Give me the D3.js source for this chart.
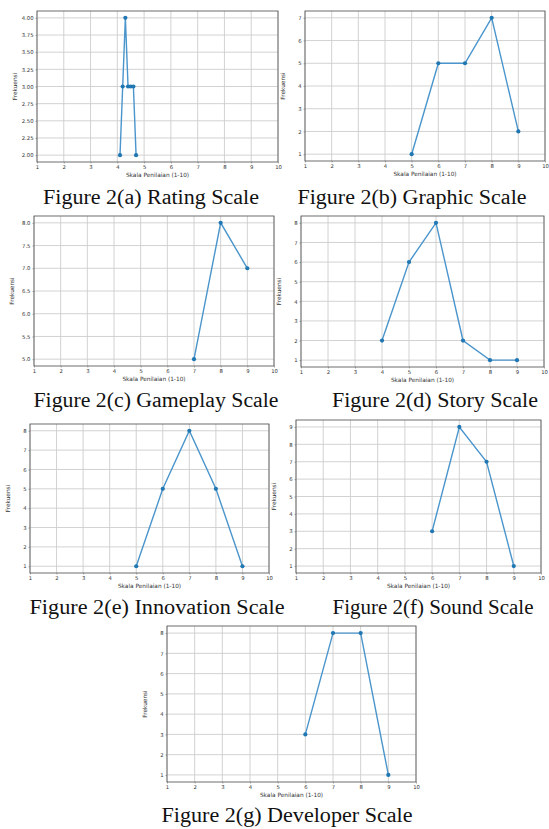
<!DOCTYPE html>
<html>
<head>
<meta charset="utf-8">
<script src="https://cdn.jsdelivr.net/npm/d3@7"></script>
<style>
  body { margin: 0; background: #fff; }
  .tick text { font-family: "DejaVu Sans", sans-serif; font-size: 5.3px; fill: #333; }
  .caption { font-family: "Liberation Serif", serif; fill: #111; }
  .axlabel { font-family: "DejaVu Sans", sans-serif; font-size: 5.8px; fill: #333; }
</style>
</head>
<body>
<div id="chart"></div>
<script>
// values
const xTicks = [1, 2, 3, 4, 5, 6, 7, 8, 9, 10];

const ratingX = [4.1, 4.2, 4.3, 4.4, 4.5, 4.6, 4.7];
const ratingY = [2, 3, 4, 3, 3, 3, 2];

const graphicX = [5, 6, 7, 8, 9];
const graphicY = [1, 5, 5, 7, 2];

const gameplayX = [7, 8, 9];
const gameplayY = [5, 8, 7];

const storyX = [4, 5, 6, 7, 8, 9];
const storyY = [2, 6, 8, 2, 1, 1];

const innovationX = [5, 6, 7, 8, 9];
const innovationY = [1, 5, 8, 5, 1];

const soundX = [6, 7, 8, 9];
const soundY = [3, 9, 7, 1];

const developerX = [6, 7, 8, 9];
const developerY = [3, 8, 8, 1];

const captions = [
  "Figure 2(a) Rating Scale", "Figure 2(b) Graphic Scale",
  "Figure 2(c) Gameplay Scale", "Figure 2(d) Story Scale",
  "Figure 2(e) Innovation Scale", "Figure 2(f) Sound Scale",
  "Figure 2(g) Developer Scale"
];

const W = 549, H = 829;

// panel boxes on the page
const panels = [
  {xs: ratingX, ys: ratingY, fmt: ".2f", step: 0.25, box: [37, 278, 11, 162], cap: [151, 204, 216]},
  {xs: graphicX, ys: graphicY, fmt: "d", step: 1, box: [305, 545, 11, 161], cap: [412, 204, 229]},
  {xs: gameplayX, ys: gameplayY, fmt: ".1f", step: 0.5, box: [34, 274, 216, 366], cap: [156, 407, 245]},
  {xs: storyX, ys: storyY, fmt: "d", step: 1, box: [301, 544, 216, 367], cap: [435, 407, 206]},
  {xs: innovationX, ys: innovationY, fmt: "d", step: 1, box: [30, 269, 424, 573], cap: [157, 614, 255]},
  {xs: soundX, ys: soundY, fmt: "d", step: 1, box: [296, 541, 420, 573], cap: [433, 614, 201]},
  {xs: developerX, ys: developerY, fmt: "d", step: 1, box: [167, 416, 626, 782], cap: [287, 822, 251]}
];

const svg = d3.select("#chart").append("svg")
  .attr("width", W)
  .attr("height", H)
  .style("background", "#fff");

panels.forEach(function(p, i) {
  const [x0, x1, y0, y1] = p.box;
  const lo = d3.min(p.ys), hi = d3.max(p.ys);
  const pad = (hi - lo) * 0.05;

  const x = d3.scaleLinear().domain([1, 10]).range([x0, x1]);
  const y = d3.scaleLinear().domain([lo - pad, hi + pad]).range([y1, y0]);

  const yTicks = d3.range(lo, hi + p.step / 2, p.step);

  const g = svg.append("g");

  // grid
  g.append("g").selectAll("line")
    .data(xTicks)
    .enter().append("line")
    .attr("x1", d => x(d)).attr("x2", d => x(d))
    .attr("y1", y0).attr("y2", y1)
    .style("stroke", "#cdcdcd")
    .style("stroke-width", 0.9);

  g.append("g").selectAll("line")
    .data(yTicks)
    .enter().append("line")
    .attr("x1", x0).attr("x2", x1)
    .attr("y1", d => y(d)).attr("y2", d => y(d))
    .style("stroke", "#cdcdcd")
    .style("stroke-width", 0.9);

  // axes
  const xAxis = g.append("g")
    .attr("transform", "translate(0," + y1 + ")")
    .call(d3.axisBottom(x).tickValues(xTicks).tickSize(1.5).tickPadding(2).tickFormat(d3.format("d")));
  const yAxis = g.append("g")
    .attr("transform", "translate(" + x0 + ",0)")
    .call(d3.axisLeft(y).tickValues(yTicks).tickSize(1.5).tickPadding(2).tickFormat(d3.format(p.fmt)));
  [xAxis, yAxis].forEach(a => {
    a.select(".domain").remove();
    a.selectAll(".tick line").style("stroke", "#555").style("stroke-width", 0.5);
  });

  // frame
  g.append("rect")
    .attr("x", x0).attr("y", y0)
    .attr("width", x1 - x0).attr("height", y1 - y0)
    .style("fill", "none")
    .style("stroke", "#5e5e5e")
    .style("stroke-width", 0.9);

  // labels
  g.append("text")
    .attr("class", "axlabel")
    .attr("x", (x0 + x1) / 2)
    .attr("y", y1 + 15)
    .attr("text-anchor", "middle")
    .text("Skala Penilaian (1-10)");

  g.append("text")
    .attr("class", "axlabel")
    .attr("transform", "translate(" + (x0 - 20) + "," + ((y0 + y1) / 2) + ") rotate(-90)")
    .attr("text-anchor", "middle")
    .text("Frekuensi");

  // series
  const pts = p.xs.map((v, k) => [v, p.ys[k]]);

  g.append("path")
    .datum(pts)
    .attr("d", d3.line().x(d => x(d[0])).y(d => y(d[1])))
    .style("fill", "none")
    .style("stroke", "#4a95cc")
    .style("stroke-width", 1.4);

  g.selectAll("circle.pt")
    .data(pts)
    .enter().append("circle")
    .attr("class", "pt")
    .attr("cx", d => x(d[0]))
    .attr("cy", d => y(d[1]))
    .attr("r", 2.1)
    .style("fill", "#1f77b4");

  // caption
  svg.append("text")
    .attr("class", "caption")
    .attr("x", p.cap[0])
    .attr("y", p.cap[1])
    .attr("text-anchor", "middle")
    .attr("textLength", p.cap[2])
    .attr("lengthAdjust", "spacingAndGlyphs")
    .style("font-size", "20px")
    .text(captions[i]);
});
</script>
</body>
</html>
